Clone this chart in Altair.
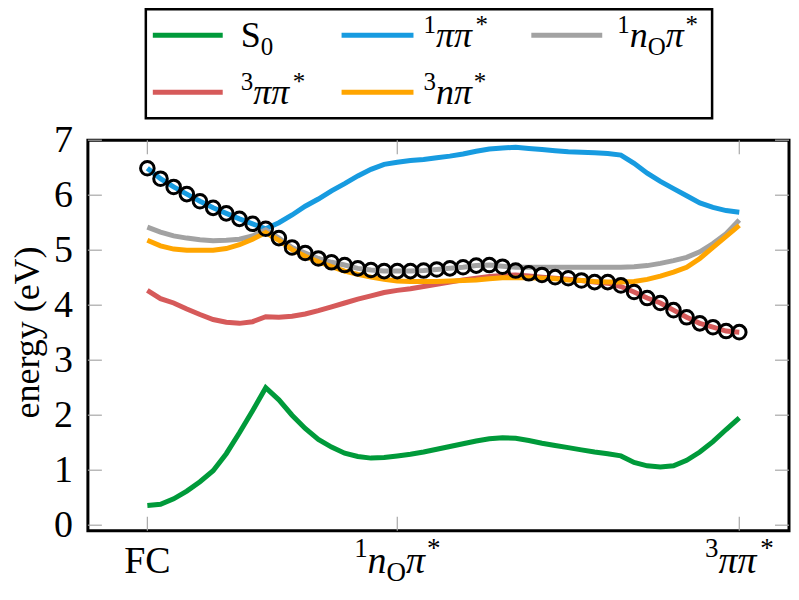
import altair as alt
import pandas as pd

# ---------------- data ----------------
x_index = list(range(46))
s0 = [0.36, 0.38, 0.48, 0.62, 0.79, 0.99, 1.30, 1.68, 2.08, 2.50,
      2.28, 2.00, 1.76, 1.56, 1.42, 1.31, 1.25, 1.22, 1.23, 1.26,
      1.29, 1.33, 1.38, 1.43, 1.48, 1.53, 1.57, 1.59, 1.58, 1.54,
      1.49, 1.45, 1.41, 1.37, 1.33, 1.30, 1.26, 1.14, 1.08, 1.06,
      1.08, 1.18, 1.33, 1.52, 1.74, 1.95]
pipi1 = [6.49, 6.30, 6.15, 6.02, 5.89, 5.77, 5.67, 5.57, 5.48, 5.39,
         5.50, 5.64, 5.80, 5.93, 6.08, 6.21, 6.35, 6.47, 6.56, 6.60,
         6.63, 6.65, 6.68, 6.71, 6.75, 6.80, 6.84, 6.86, 6.87, 6.85,
         6.83, 6.81, 6.79, 6.78, 6.77, 6.76, 6.73, 6.58, 6.40, 6.25,
         6.12, 5.99, 5.86, 5.78, 5.72, 5.69]
nopi1 = [5.42, 5.33, 5.26, 5.22, 5.19, 5.17, 5.18, 5.20, 5.26, 5.37,
         5.22, 5.05, 4.95, 4.85, 4.78, 4.73, 4.67, 4.64, 4.62, 4.62,
         4.62, 4.63, 4.65, 4.67, 4.69, 4.72, 4.73, 4.71, 4.69, 4.69,
         4.69, 4.69, 4.69, 4.69, 4.69, 4.69, 4.69, 4.70, 4.72, 4.76,
         4.81, 4.87, 4.97, 5.12, 5.30, 5.55]
pipi3 = [4.27, 4.12, 4.04, 3.93, 3.83, 3.74, 3.69, 3.67, 3.70, 3.79,
         3.78, 3.80, 3.84, 3.90, 3.97, 4.04, 4.11, 4.17, 4.23, 4.27,
         4.30, 4.34, 4.38, 4.42, 4.46, 4.49, 4.52, 4.54, 4.55, 4.53,
         4.51, 4.49, 4.47, 4.45, 4.42, 4.40, 4.34, 4.24, 4.13, 4.04,
         3.91, 3.78, 3.67, 3.60, 3.53, 3.51]
npi3 = [5.18, 5.08, 5.02, 5.00, 5.00, 5.00, 5.03, 5.10, 5.20, 5.32,
        5.18, 5.01, 4.89, 4.79, 4.70, 4.62, 4.56, 4.51, 4.47, 4.44,
        4.43, 4.43, 4.43, 4.44, 4.45, 4.46, 4.48, 4.50, 4.50, 4.50,
        4.49, 4.48, 4.46, 4.45, 4.43, 4.42, 4.42, 4.43, 4.47, 4.53,
        4.60, 4.69, 4.85, 5.05, 5.25, 5.45]
path = [6.49, 6.30, 6.15, 6.02, 5.89, 5.77, 5.67, 5.57, 5.48, 5.39,
        5.22, 5.05, 4.95, 4.85, 4.78, 4.73, 4.67, 4.64, 4.62, 4.62,
        4.62, 4.63, 4.65, 4.67, 4.69, 4.72, 4.73, 4.70, 4.63, 4.58,
        4.55, 4.51, 4.49, 4.45, 4.42, 4.42, 4.36, 4.24, 4.13, 4.04,
        3.91, 3.78, 3.67, 3.60, 3.53, 3.51]

y_ticks = [0, 1, 2, 3, 4, 5, 6, 7]
y_tick_labels = ["0", "1", "2", "3", "4", "5", "6", "7"]
x_ticks = [0, 19, 45]
x_tick_labels = [
    [("FC", "rm")],
    [("1", "sup"), ("n", "it"), ("O", "sub"), ("π", "it"), ("*", "sup")],
    [("3", "sup"), ("ππ", "it"), ("*", "sup")],
]
y_title = "energy (eV)"

series_order = ["S0", "1pipi", "1nOpi", "3pipi", "3npi"]
series_values = {"S0": s0, "1pipi": pipi1, "1nOpi": nopi1, "3pipi": pipi3, "3npi": npi3}
series_colors = {"S0": "#009a3a", "1pipi": "#179be0", "1nOpi": "#a2a2a2",
                 "3pipi": "#d65a5a", "3npi": "#ffa500"}
legend_labels = {
    "S0": [("S", "rm"), ("0", "sub")],
    "1pipi": [("1", "sup"), ("ππ", "it"), ("*", "sup")],
    "1nOpi": [("1", "sup"), ("n", "it"), ("O", "sub"), ("π", "it"), ("*", "sup")],
    "3pipi": [("3", "sup"), ("ππ", "it"), ("*", "sup")],
    "3npi": [("3", "sup"), ("n", "it"), ("π", "it"), ("*", "sup")],
}
legend_pos = {"S0": (0, 0), "1pipi": (0, 1), "1nOpi": (0, 2), "3pipi": (1, 0), "3npi": (1, 1)}

# ---------------- layout ----------------
W, H = 702, 391
FONT = "Liberation Serif"
F = 38
xs = alt.Scale(domain=[-4.52, 48.78], nice=False, zero=False)
ys = alt.Scale(domain=[-0.1, 7], nice=False, zero=False)

CW = {"S": 0.556, "F": 0.556, "C": 0.667, "O": 0.722, "0": 0.5, "1": 0.5, "3": 0.5,
      "*": 0.5, "n": 0.5, "π": 0.55}


def compose(pieces, fsize):
    out, dx = [], 0.0
    for text, kind in pieces:
        size = fsize if kind in ("rm", "it") else round(fsize * 0.7)
        dy = {"rm": 0, "it": 0, "sup": -0.40 * fsize, "sub": 0.22 * fsize}[kind]
        style = "italic" if kind == "it" else "normal"
        out.append((text, dx, dy, size, style))
        dx += sum(CW.get(ch, 0.5) for ch in text) * size
    return out, dx


layers = []

# lines
for name in series_order:
    df = pd.DataFrame({"x": x_index, "E": series_values[name]})
    layers.append(
        alt.Chart(df).mark_line(color=series_colors[name], strokeWidth=5)
        .encode(x=alt.X("x:Q", scale=xs, axis=None),
                y=alt.Y("E:Q", scale=ys, axis=None))
    )

# circles along the path
df_path = pd.DataFrame({"x": x_index, "E": path})
layers.append(
    alt.Chart(df_path).mark_point(shape="circle", filled=False, stroke="black",
                                  strokeWidth=3, size=185, opacity=1)
    .encode(x=alt.X("x:Q", scale=xs, axis=None), y=alt.Y("E:Q", scale=ys, axis=None))
)

# inward ticks on all four sides
TL = 14
df_yt = pd.DataFrame({"v": y_ticks, "lab": y_tick_labels})
df_xt = pd.DataFrame({"v": x_ticks})
tick_style = dict(color="#a8a8a8", strokeWidth=1.2)
layers.append(alt.Chart(df_yt).mark_rule(**tick_style).encode(
    y=alt.Y("v:Q", scale=ys, axis=None), x=alt.value(0), x2=alt.value(TL)))
layers.append(alt.Chart(df_yt).mark_rule(**tick_style).encode(
    y=alt.Y("v:Q", scale=ys, axis=None), x=alt.value(W - TL), x2=alt.value(W)))
layers.append(alt.Chart(df_xt).mark_rule(**tick_style).encode(
    x=alt.X("v:Q", scale=xs, axis=None), y=alt.value(H - TL), y2=alt.value(H)))
layers.append(alt.Chart(df_xt).mark_rule(**tick_style).encode(
    x=alt.X("v:Q", scale=xs, axis=None), y=alt.value(0), y2=alt.value(TL)))

# y tick labels
layers.append(
    alt.Chart(df_yt).mark_text(font=FONT, fontSize=F, color="black", align="right",
                               baseline="middle", dy=1)
    .encode(y=alt.Y("v:Q", scale=ys, axis=None), x=alt.value(-15), text="lab:N")
)

# x tick labels (composed from pieces)
for xv, pieces in zip(x_ticks, x_tick_labels):
    comp, total = compose(pieces, F)
    for text, dx, dy, size, style in comp:
        layers.append(
            alt.Chart(pd.DataFrame({"x": [xv], "t": [text]}))
            .mark_text(font=FONT, fontSize=size, fontStyle=style, color="black",
                       align="left", baseline="alphabetic", dx=dx - total / 2, dy=dy)
            .encode(x=alt.X("x:Q", scale=xs, axis=None), y=alt.value(H + 42), text="t:N")
        )

# y title
layers.append(
    alt.Chart(pd.DataFrame({"t": [y_title]}))
    .mark_text(font=FONT, fontSize=36, angle=270, align="center", baseline="middle",
               color="black")
    .encode(x=alt.value(-60), y=alt.value(H / 2 - 3), text="t:N")
)

# legend box
LX0, LX1, LY0, LY1 = 58, 625, -131, -22
layers.append(
    alt.Chart(pd.DataFrame({"a": [0]})).mark_rect(fillOpacity=0, stroke="black", strokeWidth=2.5)
    .encode(x=alt.value(LX0), x2=alt.value(LX1), y=alt.value(LY0), y2=alt.value(LY1))
)
row_y = [-105, -48]
col_line = [(65, 135), (254, 326), (444, 515)]
col_text = [153, 336, 530]
FL = 36
for name in series_order:
    r, c = legend_pos[name]
    layers.append(
        alt.Chart(pd.DataFrame({"a": [0]})).mark_rule(color=series_colors[name], strokeWidth=5)
        .encode(x=alt.value(col_line[c][0]), x2=alt.value(col_line[c][1]), y=alt.value(row_y[r]))
    )
    comp, total = compose(legend_labels[name], FL)
    for text, dx, dy, size, style in comp:
        layers.append(
            alt.Chart(pd.DataFrame({"t": [text]}))
            .mark_text(font=FONT, fontSize=size, fontStyle=style, color="black",
                       align="left", baseline="alphabetic", dx=dx, dy=dy)
            .encode(x=alt.value(col_text[c]), y=alt.value(row_y[r] + 12), text="t:N")
        )

chart = (
    alt.layer(*layers)
    .properties(width=W, height=H, background="white",
                autosize=alt.AutoSizeParams(type="none"),
                padding={"left": 80, "top": 132, "right": 2, "bottom": 58})
    .configure_view(stroke="black", strokeWidth=3)
)

chart.save("out.html", embed_options={"renderer": "svg", "actions": False})
